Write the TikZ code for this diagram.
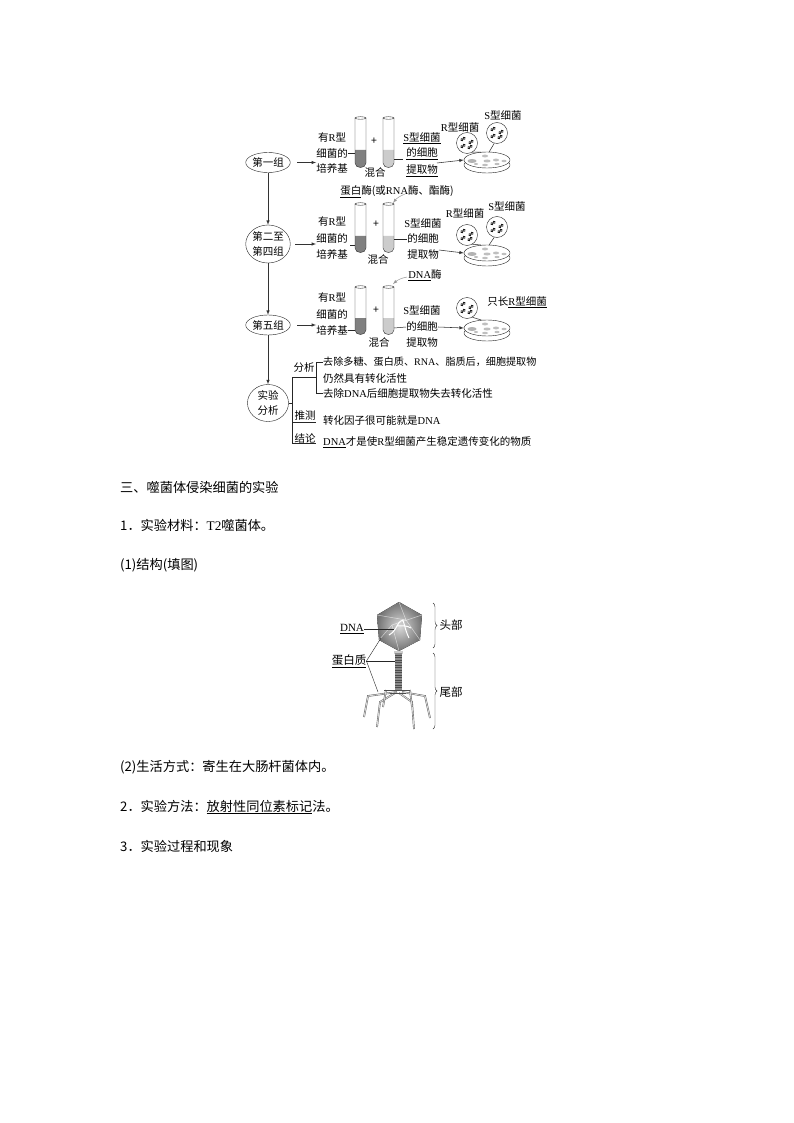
\documentclass[tikz,border=0pt]{standalone}
\usepackage{fontspec}
\setmainfont{Noto Sans CJK SC}
\newfontfamily\latinfont{Liberation Serif}
\usetikzlibrary{shapes.geometric,decorations.pathreplacing}
\newcommand{\lat}[1]{{\latinfont #1}}
\tikzset{
    small/.style={inner sep=0pt,text=black,font=\fontsize{10.5}{12}\selectfont},
    note/.style={small,anchor=west,font=\fontsize{10.5}{12}\selectfont},
    body/.style={inner sep=0pt,anchor=west,text=black,font=\fontsize{13.2}{15}\selectfont},
    group/.style={small,draw=black!85,ellipse,minimum width=41pt,align=center,font=\fontsize{10.5}{15.5}\selectfont},
    flow/.style={draw=black!80,-latex,line width=.55pt},
    link/.style={draw=black!85,line width=.5pt},
    hint/.style={draw=black!40,-latex,line width=.5pt},
    plate/.style={draw=black!85,fill=white,ellipse,minimum width=46pt,minimum height=16pt,inner sep=0pt},
    bubble/.style={draw=black!85,fill=white,circle,minimum size=21pt,inner sep=0pt},
    leg/.style={draw=black!65,double=black!15,line width=.4pt,double distance=.9pt},
}
% tube: x of the left wall, top, bottom, top of the liquid, colour of the liquid
\newcommand{\tube}[5]{
    \fill[#5] (#1,#4) -- (#1,#3-5) .. controls (#1,#3+1) and (#1+11,#3+1) .. (#1+11,#3-5) -- (#1+11,#4) -- cycle;
    \draw[black!85] (#1,#2) -- (#1,#3-5) .. controls (#1,#3+1) and (#1+11,#3+1) .. (#1+11,#3-5) -- (#1+11,#2);
    \draw[black!85,fill=white] (#1+5.5,#2) ellipse (5.5 and 1.3);
}
% plate: name, x and y of the centre of its lid
\newcommand{\dish}[3]{
    \draw[black!85,fill=white] (#2,#3+5) ellipse (23 and 8);
    \node[plate] (#1) at (#2,#3) {};
    \fill[black!30] (#2-15,#3+1) ellipse (4.5 and 2);
    \fill[black!25] (#2-2,#3-4) ellipse (3 and 1.4);
    \fill[black!25] (#2,#3+1) ellipse (3.5 and 1.5);
    \fill[black!25] (#2+9,#3) ellipse (3 and 1.4);
    \fill[black!25] (#2+17,#3+1) ellipse (2.5 and 1.2);
    \fill[black!25] (#2-11,#3+4) ellipse (2 and 1);
    \fill[black!25] (#2-2,#3+5) ellipse (3 and 1.2);
    \fill[black!25] (#2+10,#3+4) ellipse (2.5 and 1.1);
}
% bubble with two pairs of cells
\newcommand{\cells}[3]{
    \node[bubble] (#1) at (#2,#3) {};
    \foreach \dx/\dy in {-4/-4,4/-1,-4/3,3/4}{
        \draw[black,line width=.6pt,rotate around={35:(#2+\dx,#3+\dy)}] (#2+\dx-1.3,#3+\dy) circle (1.2) (#2+\dx+1.3,#3+\dy) circle (1.2);
    }
}
\begin{document}
\begin{tikzpicture}[x=1pt,y=-1pt]
    \useasboundingbox[fill=white] (0,0) rectangle (794,1123);

    % left column
    \node[group,minimum height=20pt] (groupA) at (268,162.5) {第一组};
    \node[group,minimum height=38pt] (groupB) at (268,244) {第二至\\第四组};
    \node[group,minimum height=20pt] (groupC) at (268,325) {第五组};
    \node[group,minimum height=37pt] (groupD) at (268,403) {实验\\分析};
    \draw[flow] (groupA) -- (groupB);
    \draw[flow] (groupB) -- (groupC);
    \draw[flow] (groupC) -- (groupD);

    % first row
    \node[small] (mediumAa) at (332,138) {有\lat{R}型};
    \node[small] (mediumAb) at (332,153) {细菌的};
    \node[small] (mediumAc) at (332,169) {培养基};
    \tube{355}{118}{168}{150}{black!50}
    \tube{383}{118}{168}{150}{black!20}
    \node[small] (plusA) at (374,141) {+};
    \node[small] (mixA) at (375,173) {混合};
    \node[small] (extractAa) at (422,138) {\underline{\lat{S}型细菌}};
    \node[small] (extractAb) at (422,154) {\underline{的细胞}};
    \node[small] (extractAc) at (422,171) {\underline{提取物}};
    \dish{dishA}{487}{160}
    \cells{bubbleAr}{467}{143}
    \cells{bubbleAs}{497}{133}
    \draw[link] (bubbleAr.300) -- (dishA.125);
    \draw[link] (bubbleAs.255) -- (dishA.75);
    \node[small] (labelAr) at (460,127) {\lat{R}型细菌};
    \node[small] (labelAs) at (503,115) {\lat{S}型细菌};
    \draw[flow,shorten <=7pt] (groupA.east) -- (groupA.east -| mediumAb.west);
    \draw[link] (mediumAb.east) -- (355,153);
    \draw[link] (394,159) -- (403,159);
    \draw[flow] (437,163) -- (dishA.west);

    % second row
    \node[small] (enzymeB) at (397,192) {\underline{蛋白}酶(或\lat{RNA}酶、酯酶)};
    \node[small] (mediumBa) at (332,222) {有\lat{R}型};
    \node[small] (mediumBb) at (332,238) {细菌的};
    \node[small] (mediumBc) at (332,254) {培养基};
    \tube{355}{204}{253}{236}{black!50}
    \tube{383}{204}{253}{236}{black!20}
    \node[small] (plusB) at (376,224) {+};
    \node[small] (mixB) at (378,260) {混合};
    \node[small] (extractBa) at (423,223) {\lat{S}型细菌};
    \node[small] (extractBb) at (423,239) {的细胞};
    \node[small] (extractBc) at (423,255) {提取物};
    \dish{dishB}{487}{253}
    \cells{bubbleBr}{467}{235}
    \cells{bubbleBs}{497}{227}
    \draw[link] (bubbleBr.300) -- (dishB.125);
    \draw[link] (bubbleBs.255) -- (dishB.75);
    \node[small] (labelBr) at (465,213) {\lat{R}型细菌};
    \node[small] (labelBs) at (507,206) {\lat{S}型细菌};
    \draw[flow,shorten <=5pt] (groupB.east) -- (groupB.east -| mediumBb.west);
    \draw[link] (350,245) -- (355,245);
    \draw[link] (394,239) -- (extractBb.west);
    \draw[flow] (439,250) -- (dishB.west);
    \draw[hint] (405,194) to[bend right=15] (393,203);

    % third row
    \node[small] (enzymeC) at (425,275) {\underline{\lat{DNA}}酶};
    \node[small] (mediumCa) at (332,298) {有\lat{R}型};
    \node[small] (mediumCb) at (332,314) {细菌的};
    \node[small] (mediumCc) at (332,330) {培养基};
    \tube{355}{287}{335}{318}{black!50}
    \tube{383}{287}{335}{318}{black!20}
    \node[small] (plusC) at (376,310) {+};
    \node[small] (mixC) at (379,343) {混合};
    \node[small] (extractCa) at (422,310) {\lat{S}型细菌};
    \node[small] (extractCb) at (422,327) {的细胞};
    \node[small] (extractCc) at (422,343) {提取物};
    \dish{dishC}{487}{328}
    \cells{bubbleCr}{467}{308}
    \draw[link] (bubbleCr.300) -- (dishC.125);
    \node[small] (labelCr) at (517,302) {只长\underline{\lat{R}型细菌}};
    \draw[flow,shorten <=7pt] (groupC.east) -- (groupC.east -| mediumCb.west);
    \draw[link] (mediumCc.east) -- (355,330);
    \draw[link] (394,328) -- (extractCb.west);
    \draw[flow] (438,327) -- (dishC.west);
    \draw[hint] (407,277) to[bend right=15] (393,284);

    % analysis tree
    \node[small] (termA) at (304,368) {分析};
    \node[small] (termB) at (305,416) {推测};
    \node[small] (termC) at (305,438) {结论};
    \node[note,font=\fontsize{10.1}{12}\selectfont] (noteA) at (323,362) {去除多糖、蛋白质、\lat{RNA}、脂质后，细胞提取物};
    \node[note] (noteB) at (323,378) {仍然具有转化活性};
    \node[note] (noteC) at (323,393) {去除\lat{DNA}后细胞提取物失去转化活性};
    \node[note] (noteD) at (323,421) {转化因子很可能就是\lat{DNA}};
    \node[note] (noteE) at (323,442) {\underline{\lat{DNA}}才是使\lat{R}型细菌产生稳定遗传变化的物质};
    \draw[link] (groupD.east) -- (292,403);
    \draw[link] (316,377) -- (292,377) -- (292,443) -- (316,443);
    \draw[link] (292,422) -- (316,422);
    \draw[link] (noteA.west) -- (316,362) -- (316,393) -- (noteC.west);

    % body text
    \node[body] (headingC) at (120,487) {三、噬菌体侵染细菌的实验};
    \node[body] (itemA) at (120,525) {1．实验材料：\lat{T2}噬菌体。};
    \node[body] (itemAa) at (120,565) {(1)结构(填图)};
    \node[body] (itemAb) at (120,767) {(2)生活方式：寄生在大肠杆菌体内。};
    \node[body] (itemB) at (120,807) {2．实验方法：\underline{放射性同位素标记}法。};
    \node[body] (itemC) at (120,846) {3．实验过程和现象};

    % phage
    \fill[inner color=black!15,outer color=black!55] (399,602) -- (422,615) -- (420,640) -- (399,651) -- (379,640) -- (377,615) -- cycle;
    \draw[white,line width=.5pt,opacity=.6] (399,602) -- (406,620) -- (420,640) (377,615) -- (406,620) (399,651) -- (392,625) -- (379,640) (392,625) -- (422,615);
    \draw[white,line width=1pt] (389,635) .. controls (398,630) and (396,622) .. (403,620) .. controls (405,627) and (406,632) .. (409,638) (397,626) .. controls (402,626) and (406,625) .. (411,628);
    \fill[black!20] (394,651) rectangle (403,654);
    \fill[black!45] (395,653) rectangle (402,690);
    \foreach \ridge in {655,657.5,...,690}{
        \draw[black!70,line width=.6pt] (395,\ridge) -- (402,\ridge);
    }
    \draw[leg] (397,692) -- (368,696) -- (364,717);
    \draw[leg] (402,692) -- (425,696) -- (430,718);
    \draw[leg] (395,693) -- (380,702) -- (377,727);
    \draw[leg] (399,693) -- (412,702) -- (414,729);
    \draw[leg] (386,690) -- (383,707);
    \draw[leg] (410,690) -- (412,707);
    \draw[black!70,line width=1pt] (384,690) -- (410,690) (390,693) -- (406,693);
    \node[small,font=\fontsize{11}{13}\selectfont] (labelDna) at (352,629) {\underline{\lat{DNA}}};
    \node[small,font=\fontsize{11.5}{13}\selectfont] (labelProtein) at (349,661) {\underline{蛋白质}};
    \coordinate (coreDna) at (394,629);
    \coordinate (coatHead) at (381,638);
    \coordinate (coatTail) at (395,661);
    \coordinate (coatLeg) at (378,692);
    \draw[black!85] (labelDna.east) -- (coreDna);
    \draw[black!85] (labelProtein.east) -- (coatHead);
    \draw[black!85] (labelProtein.east) -- (coatTail);
    \draw[black!85] (labelProtein.east) -- (coatLeg);
    \draw[black!80,decorate,decoration={brace,amplitude=4pt}] (433,603) -- (433,648);
    \draw[black!80,decorate,decoration={brace,amplitude=4pt}] (433,653) -- (433,729);
    \node[small,font=\fontsize{11.5}{13}\selectfont] (labelHead) at (451,625) {头部};
    \node[small,font=\fontsize{11.5}{13}\selectfont] (labelTail) at (451,692) {尾部};
\end{tikzpicture}
\end{document}
